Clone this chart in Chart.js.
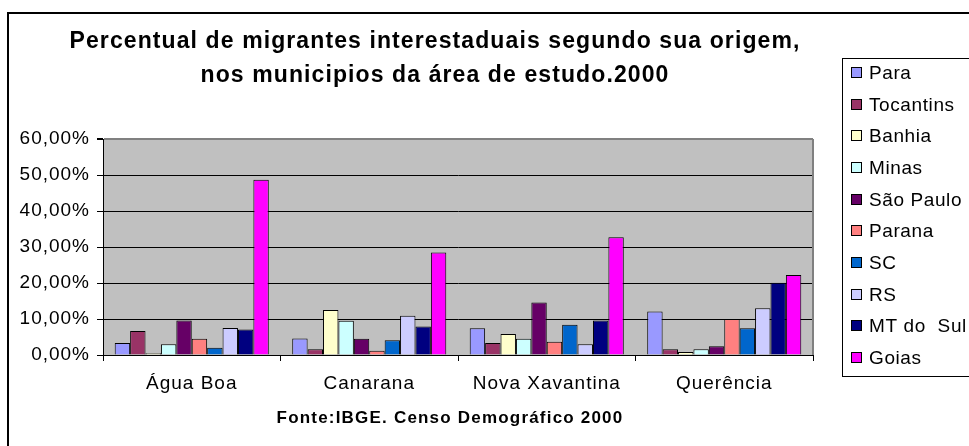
<!DOCTYPE html>
<html>
<head>
<meta charset="utf-8">
<script src="https://cdn.jsdelivr.net/npm/chart.js@4.4.1/dist/chart.umd.min.js"></script>
<style>
	body { margin: 0; background: #fff; }
</style>
</head>
<body>
<canvas id="myChart" width="969" height="446"></canvas>
<script>
// Data (percent)
const categories = ['Água Boa', 'Canarana', 'Nova Xavantina', 'Querência'];
const para      = [3.3, 4.6, 7.4, 12.1];
const tocantins = [6.7, 1.6, 3.3, 1.6];
const banhia    = [0.5, 12.5, 5.8, 0.8];
const minas     = [3.0, 9.5, 4.5, 1.6];
const saoPaulo  = [9.6, 4.5, 14.6, 2.4];
const parana    = [4.5, 1.2, 3.7, 10.0];
const sc        = [2.0, 4.1, 8.4, 7.4];
const rs        = [7.5, 10.9, 3.0, 13.0];
const mtDoSul   = [7.1, 7.9, 9.6, 20.1];
const goias     = [48.7, 28.5, 32.7, 22.2];

const yTicks = [0, 10, 20, 30, 40, 50, 60];
const titleLines = ['Percentual de migrantes interestaduais segundo sua origem,', 'nos municipios da área de estudo.2000'];
const footnote = 'Fonte:IBGE. Censo Demográfico 2000';

const FONT = 'Arial, "Liberation Sans", sans-serif';

function series(label, data, color) {
	return { label, data, backgroundColor: color, borderColor: '#000', borderWidth: 1 };
}

// grey plot background, frame, titles and the boxed legend
const framePlugin = {
	id: 'frame',
	beforeDraw(chart) {
		const { ctx, chartArea: a } = chart;
		ctx.save();
		ctx.fillStyle = '#c0c0c0';
		ctx.fillRect(a.left, a.top, a.right - a.left, a.bottom - a.top);
		ctx.restore();
		ctx.letterSpacing = '1px';
	},
	afterDraw(chart) {
		const { ctx, chartArea: a } = chart;
		ctx.save();
		ctx.strokeStyle = '#808080';
		ctx.lineWidth = 2;
		ctx.beginPath();
		ctx.moveTo(a.right, a.top);
		ctx.lineTo(a.right, a.bottom);
		ctx.stroke();

		// outer frame, runs off the right and bottom edges
		ctx.strokeStyle = '#000';
		ctx.strokeRect(8, 13, 1200, 1200);

		ctx.fillStyle = '#000';
		ctx.textAlign = 'center';
		ctx.textBaseline = 'alphabetic';
		ctx.font = 'bold 23px ' + FONT;
		ctx.letterSpacing = '1.1px';
		ctx.fillText(titleLines[0], 435, 48);
		ctx.fillText(titleLines[1], 435, 82);
		ctx.font = 'bold 17px ' + FONT;
		ctx.letterSpacing = '1.2px';
		ctx.fillText(footnote, 450, 423);

		// legend
		ctx.lineWidth = 1;
		ctx.strokeStyle = '#000';
		ctx.strokeRect(842.5, 58.5, 200, 318);
		ctx.font = '19px ' + FONT;
		ctx.letterSpacing = '0.6px';
		ctx.textAlign = 'left';
		ctx.textBaseline = 'middle';
		chart.data.datasets.forEach((ds, i) => {
			const y = Math.round(73 + i * 31.67);
			ctx.fillStyle = ds.backgroundColor;
			ctx.fillRect(851.5, y - 5.5, 10, 10);
			ctx.strokeRect(851.5, y - 5.5, 10, 10);
			ctx.fillStyle = '#000';
			ctx.fillText(ds.label, 869, y + 1);
		});
		ctx.restore();
	}
};

new Chart(document.getElementById('myChart'), {
	type: 'bar',
	data: {
		labels: categories,
		datasets: [
			series('Para', para, '#9999ff'),
			series('Tocantins', tocantins, '#993366'),
			series('Banhia', banhia, '#ffffcc'),
			series('Minas', minas, '#ccffff'),
			series('São Paulo', saoPaulo, '#660066'),
			series('Parana', parana, '#ff8080'),
			series('SC', sc, '#0066cc'),
			series('RS', rs, '#ccccff'),
			series('MT do  Sul', mtDoSul, '#000080'),
			series('Goias', goias, '#ff00ff')
		]
	},
	options: {
		responsive: false,
		animation: false,
		devicePixelRatio: 1,
		layout: { padding: { top: 139, right: 156, left: 0, bottom: 0 } },
		datasets: { bar: { categoryPercentage: 0.868, barPercentage: 1 } },
		plugins: {
			legend: { display: false },
			title: { display: false },
			tooltip: { enabled: false }
		},
		scales: {
			x: {
				grid: { offset: true, drawOnChartArea: false, tickLength: 6, color: '#000' },
				border: { color: '#000' },
				ticks: { font: { family: FONT, size: 19 }, color: '#000', padding: 11, maxRotation: 0 },
				afterFit(scale) { scale.height = 91; }
			},
			y: {
				min: yTicks[0],
				max: yTicks[yTicks.length - 1],
				afterBuildTicks(scale) { scale.ticks = yTicks.map(v => ({ value: v })); },
				ticks: {
					font: { family: FONT, size: 19 },
					color: '#000',
					padding: 7,
					callback: v => v.toFixed(2).replace('.', ',') + '%'
				},
				grid: {
					color: c => c.tick && c.tick.value === 60 ? '#808080' : '#000',
					lineWidth: c => c.tick && c.tick.value === 60 ? 2 : 1,
					tickColor: '#000',
					tickLength: 6
				},
				border: { color: '#000' },
				afterFit(scale) { scale.width = 103; }
			}
		}
	},
	plugins: [framePlugin]
});
</script>
</body>
</html>
